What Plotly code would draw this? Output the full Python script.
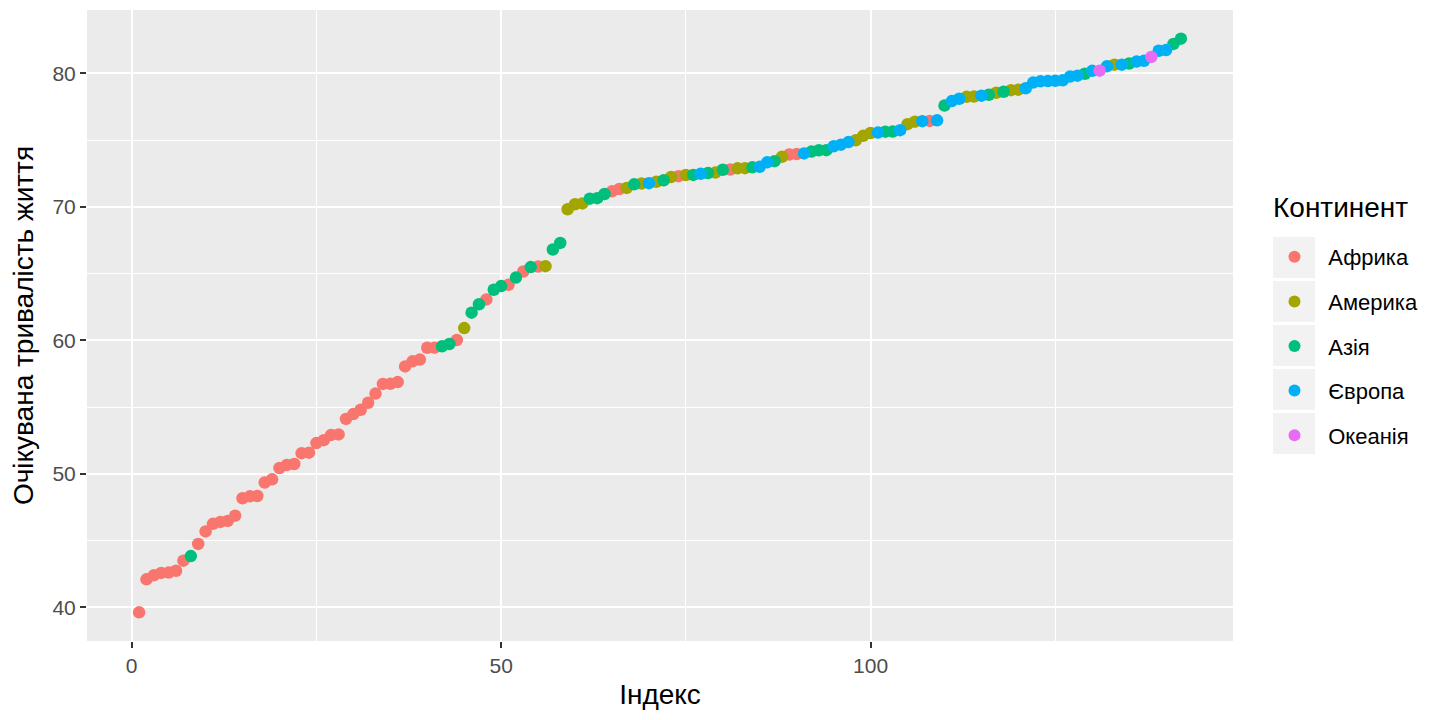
import plotly.graph_objects as go

# Life expectancy (years), 2007, one value per country, grouped by continent
africa = [72.301, 42.731, 56.728, 50.728, 52.295, 49.580, 50.430, 44.741, 50.651, 65.152,
          46.462, 55.322, 48.328, 54.791, 71.338, 51.579, 58.040, 52.947, 56.735, 59.448,
          60.022, 56.007, 46.388, 54.110, 42.592, 45.678, 73.952, 59.443, 48.303, 54.467,
          64.164, 72.801, 71.164, 42.082, 52.906, 56.867, 46.859, 76.442, 46.242, 65.528,
          63.062, 42.568, 48.159, 49.339, 58.556, 39.613, 52.517, 58.420, 73.923, 51.542,
          42.384, 43.487]
americas = [75.320, 65.554, 72.390, 80.653, 78.553, 72.889, 78.782, 78.273, 72.235, 74.994,
            71.878, 70.259, 60.916, 70.198, 72.567, 76.195, 72.899, 75.537, 71.752, 71.421,
            78.746, 69.819, 78.242, 76.384, 73.747]
asia = [43.828, 75.635, 64.062, 59.723, 72.961, 82.208, 64.698, 70.650, 70.964, 59.545,
        80.745, 82.603, 72.535, 67.297, 78.623, 77.588, 71.993, 74.241, 66.803, 62.069,
        63.785, 75.640, 65.483, 71.688, 72.777, 79.972, 72.396, 74.143, 78.400, 70.616,
        74.249, 73.422, 62.698]
europe = [76.423, 79.829, 79.441, 74.852, 73.005, 75.748, 76.486, 78.332, 79.313, 80.657,
          79.406, 79.483, 73.338, 81.757, 78.885, 80.546, 74.543, 79.762, 80.196, 75.563,
          78.098, 72.476, 74.002, 74.663, 77.926, 80.941, 80.884, 81.701, 71.777, 79.425]
oceania = [81.235, 80.204]

continents = ["Африка", "Америка", "Азія", "Європа", "Океанія"]
colors = ["#F8766D", "#A3A500", "#00BF7D", "#00B0F6", "#E76BF3"]
groups = [africa, americas, asia, europe, oceania]

x_ticks = [0, 50, 100]
y_ticks = [40, 50, 60, 70, 80]

# rank all countries by life expectancy -> index 1..N
rows = sorted((v, c) for c, vals in zip(continents, groups) for v in vals)
index = {}
for i, (v, c) in enumerate(rows, start=1):
    index.setdefault(c, []).append((i, v))

fig = go.Figure()
for c, col in zip(continents, colors):
    pts = index[c]
    fig.add_trace(go.Scatter(
        x=[p[0] for p in pts], y=[p[1] for p in pts],
        mode="markers", name="\u00a0\u00a0" + c, legendgroup=c,
        marker=dict(color=col, size=12.5, line_width=0),
        hovertemplate=c + "<br>%{x}: %{y}<extra></extra>",
    ))

n = len(rows)
lo, hi = rows[0][0], rows[-1][0]
xpad, ypad = 0.05 * (n - 1), 0.05 * (hi - lo)

axis_common = dict(
    showline=False, zeroline=False, automargin=False,
    gridcolor="white", gridwidth=2.4,
    minor=dict(showgrid=True, gridcolor="white", gridwidth=1.2),
    ticks="outside", ticklen=6, tickwidth=2.2, tickcolor="#333333",
    tickfont=dict(size=21, color="#4D4D4D"),
)

fig.update_xaxes(
    range=[1 - xpad, n + xpad], tickvals=x_ticks,
    minor_tickvals=[25, 75, 125],
    title=dict(text="Індекс", font=dict(size=28, color="black"), standoff=8),
    **axis_common,
)
fig.update_yaxes(
    range=[lo - ypad, hi + ypad], tickvals=y_ticks,
    minor_tickvals=[45, 55, 65, 75],
    title=dict(text="Очікувана тривалість життя", font=dict(size=28, color="black"), standoff=12),
    **axis_common,
)

# page is drawn with an 8px body offset; panel target 87..1233 x 10..641
W, H = 1424, 704
L, T, R, B = 79, 2, 199, 71
pw, ph = W - L - R, H - T - B


def px_x(X):
    return (X - 8 - L) / pw


def px_y(Y):
    return 1 - (Y - 8 - T) / ph


# grey key boxes behind the legend symbols (ggplot style)
for k in range(len(continents)):
    fig.add_shape(type="rect", xref="paper", yref="paper", layer="below",
                  x0=px_x(1273), x1=px_x(1315),
                  y0=px_y(237 + 44 * k + 41), y1=px_y(237 + 44 * k),
                  fillcolor="#F2F2F2", line_width=0)

fig.add_annotation(text="Континент", xref="paper", yref="paper",
                   x=px_x(1271), y=px_y(208), xanchor="left", yanchor="middle",
                   showarrow=False, font=dict(size=28, color="black"))

fig.update_layout(
    width=W, height=H,
    margin=dict(l=L, r=R, t=T, b=B),
    plot_bgcolor="#EBEBEB", paper_bgcolor="white",
    font=dict(family="Liberation Sans, Arial, sans-serif"),
    legend=dict(
        font=dict(size=22, color="black"),
        x=px_x(1273), xanchor="left", y=px_y(236), yanchor="top",
        tracegroupgap=13, itemsizing="constant", itemwidth=33,
        bgcolor="rgba(0,0,0,0)",
    ),
)

fig.write_html("out.html")
